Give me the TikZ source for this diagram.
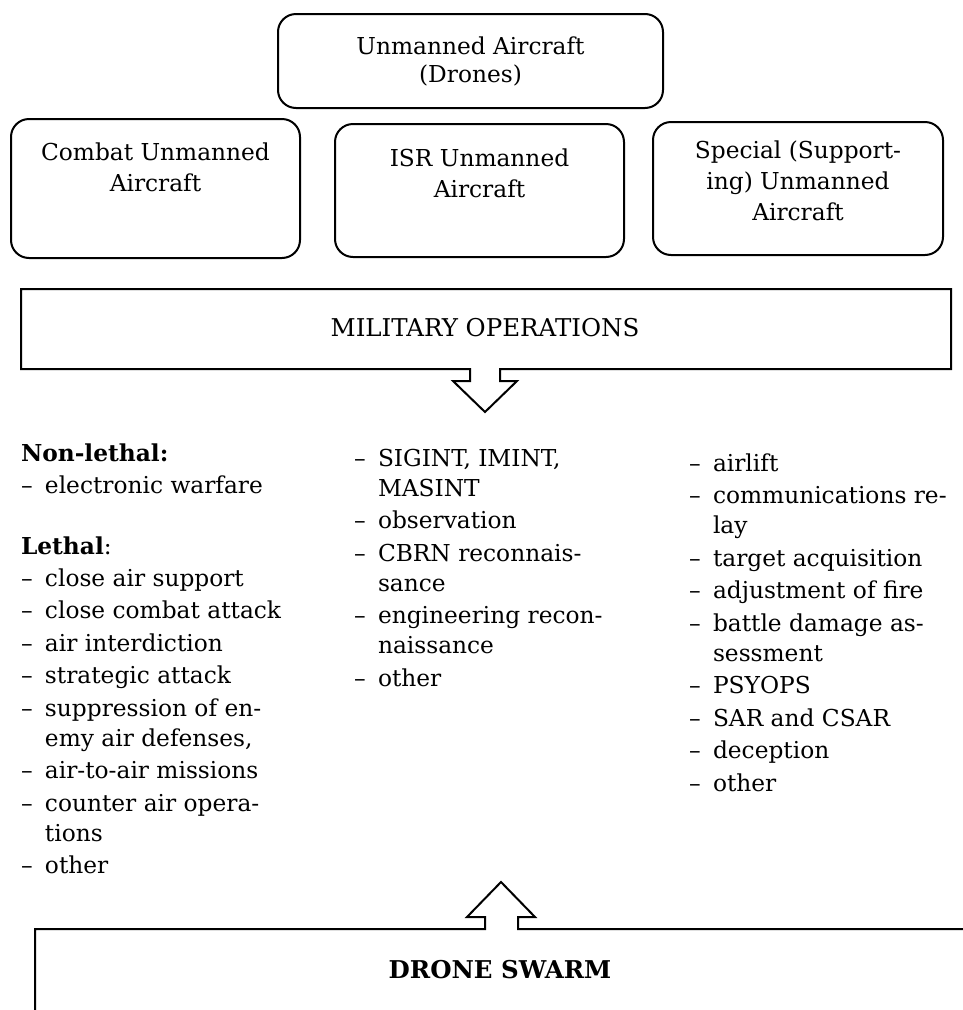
\documentclass[tikz,border=0pt]{standalone}
\usepackage{fontspec}
\setmainfont{DejaVu Serif}
\newcommand\lidash{\makebox[24pt][l]{–}}
\newcommand\liind{\hspace*{24pt}}
\begin{document}
\begin{tikzpicture}[x=1pt,y=-1pt,line width=2pt,
  rbox/.style={draw, rounded corners=18pt, inner sep=0pt, anchor=north west},
  lst/.style={anchor=north west, inner sep=0pt, align=left, font=\fontsize{23.3}{30}\selectfont},
  lbl/.style={inner sep=0pt, anchor=base, font=\fontsize{24.5}{30}\selectfont},
  blockshape/.style={draw, line join=miter}
]
\useasboundingbox (0,0) rectangle (962,1010);

% top box
\node[rbox] (drones) at (277,13)
  {\parbox[c][94pt][t]{385pt}{\centering\fontsize{23.3}{28}\selectfont\rule{0pt}{40pt}Unmanned Aircraft\\(Drones)}};

% three category boxes
\node[rbox] (combat) at (10,118)
  {\parbox[c][139pt][t]{289pt}{\centering\fontsize{23.3}{31}\selectfont\rule{0pt}{41pt}Combat Unmanned\\Aircraft}};
\node[rbox] (isr) at (334,123)
  {\parbox[c][133pt][t]{289pt}{\centering\fontsize{23.3}{31}\selectfont\rule{0pt}{42pt}ISR Unmanned\\Aircraft}};
\node[rbox] (special) at (652,121)
  {\parbox[c][133pt][t]{290pt}{\centering\fontsize{23.3}{31}\selectfont\rule{0pt}{36pt}Special (Support-\\ing) Unmanned\\Aircraft}};

% military operations block arrow
\draw[blockshape] (21,289) -- (951,289) -- (951,369) -- (500,369) -- (500,381) -- (517,381)
  -- (485,412) -- (453,381) -- (470,381) -- (470,369) -- (21,369) -- cycle;
\node[lbl] (milops) at (485,336) {MILITARY OPERATIONS};

% lists
\node[lst] (col1) at (20,440) {%
\rule{0pt}{20pt}\textbf{Non-lethal:}\\[2pt]
\lidash electronic warfare\\[31pt]
\textbf{Lethal}:\\[2pt]
\lidash close air support\\[2.5pt]
\lidash close combat attack\\[2.5pt]
\lidash air interdiction\\[2.5pt]
\lidash strategic attack\\[2.5pt]
\lidash suppression of en-\\
\liind emy air defenses,\\[2.5pt]
\lidash air-to-air missions\\[2.5pt]
\lidash counter air opera-\\
\liind tions\\[2.5pt]
\lidash other};

\node[lst] (col2) at (353,445) {%
\rule{0pt}{20pt}\lidash SIGINT, IMINT,\\
\liind MASINT\\[2.5pt]
\lidash observation\\[2.5pt]
\lidash CBRN reconnais-\\
\liind sance\\[2.5pt]
\lidash engineering recon-\\
\liind naissance\\[2.5pt]
\lidash other};

\node[lst] (col3) at (688,450) {%
\rule{0pt}{20pt}\lidash airlift\\[2.5pt]
\lidash communications re-\\
\liind lay\\[2.5pt]
\lidash target acquisition\\[2.5pt]
\lidash adjustment of fire\\[2.5pt]
\lidash battle damage as-\\
\liind sessment\\[2.5pt]
\lidash PSYOPS\\[2.5pt]
\lidash SAR and CSAR\\[2.5pt]
\lidash deception\\[2.5pt]
\lidash other};

% drone swarm block with up arrow
\draw[blockshape] (35,1020) -- (35,929) -- (485,929) -- (485,917) -- (467,917) -- (501,882)
  -- (535,917) -- (518,917) -- (518,929) -- (975,929);
\node[lbl, font=\fontsize{24.5}{30}\selectfont\bfseries] (swarm) at (500,978) {DRONE SWARM};
\end{tikzpicture}
\end{document}
